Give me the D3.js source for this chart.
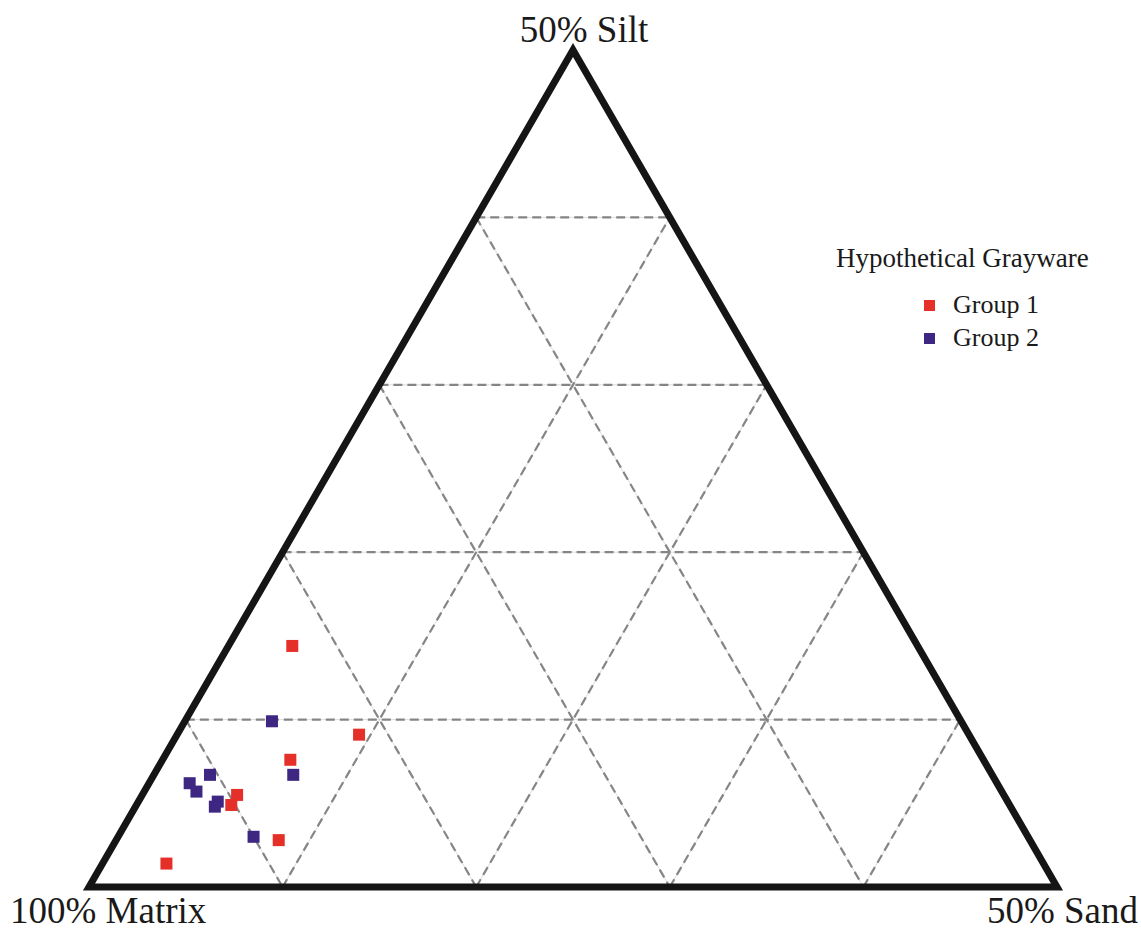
<!DOCTYPE html>
<html>
<head>
<meta charset="utf-8">
<script src="https://cdn.jsdelivr.net/npm/d3@7"></script>
<style>
  html, body { margin: 0; padding: 0; background: #fff; }
  svg { display: block; }
  text { font-family: "Liberation Serif", "Times New Roman", serif; fill: #1a1a1a; }
</style>
</head>
<body>
<svg id="chart" width="1141" height="928"></svg>
<script>
// Vertex labels (left, top, right)
const vertexLabels = ["100% Matrix", "50% Silt", "50% Sand"];

// Compositions in percent: matrix, silt, sand
const group1Matrix = [82.3, 81.5, 85.8, 89.6, 90.2, 88.8, 95.3];
const group1Silt   = [14.4,  9.1,  7.6,  5.5,  4.9,  2.8,  1.4];
const group1Sand   = [ 3.3,  9.4,  6.6,  4.9,  4.9,  8.4,  3.3];

const group2Matrix = [85.6, 86.1, 90.4, 91.7, 91.6, 90.8, 91.1, 90.0];
const group2Silt   = [ 9.9,  6.7,  6.7,  6.2,  5.7,  5.1,  4.8,  3.0];
const group2Sand   = [ 4.5,  7.2,  2.9,  2.1,  2.7,  4.1,  4.1,  7.0];

const legendTitle = "Hypothetical Grayware";
const groupNames = ["Group 1", "Group 2"];
const groupColors = ["#e5302a", "#3d2783"];

// Grid steps, in percent of silt / sand (the plotted sub-triangle spans 0–50%)
const gridSteps = [10, 20, 30, 40];

const svg = d3.select("#chart");

// Horizontal position (0 = matrix edge, 1 = sand vertex) and height (0 = base, 1 = silt vertex)
const x = d3.scaleLinear().domain([0, 1]).range([89, 1057]);
const y = d3.scaleLinear().domain([0, 1]).range([887, 50]);
const frac = d3.scaleLinear().domain([0, 50]).range([0, 1]);

// Ternary projection: silt and sand fractions of the 50% sub-triangle
function project(silt, sand) {
  const b = frac(silt), c = frac(sand);
  return [x(c + b / 2), y(b)];
}

// Grid lines
const gridLines = [];
gridSteps.forEach(v => {
  // constant silt (horizontal)
  gridLines.push([project(v, 0), project(v, 50 - v)]);
  // constant sand (parallel to the matrix–silt edge)
  gridLines.push([project(0, v), project(50 - v, v)]);
  // constant matrix (parallel to the silt–sand edge)
  gridLines.push([project(v, 0), project(0, v)]);
});

const grid = svg.append("g");
grid.selectAll("line.base").data(gridLines).join("line")
  .attr("class", "base")
  .attr("x1", d => d[0][0]).attr("y1", d => d[0][1])
  .attr("x2", d => d[1][0]).attr("y2", d => d[1][1])
  .attr("stroke", "#d4d4d4").attr("stroke-width", 0.8);
grid.selectAll("line.dash").data(gridLines).join("line")
  .attr("class", "dash")
  .attr("x1", d => d[0][0]).attr("y1", d => d[0][1])
  .attr("x2", d => d[1][0]).attr("y2", d => d[1][1])
  .attr("stroke", "#858585").attr("stroke-width", 2.2)
  .attr("stroke-dasharray", "9,5");

// Triangle outline
const corners = [project(0, 0), project(50, 0), project(0, 50)];
svg.append("path")
  .attr("d", d3.line()(corners) + "Z")
  .attr("fill", "none")
  .attr("stroke", "#151515")
  .attr("stroke-width", 7)
  .attr("stroke-linejoin", "miter")
  .attr("stroke-miterlimit", 10);

// Samples
const size = 12;
function drawGroup(silt, sand, color) {
  const pts = silt.map((s, i) => project(s, sand[i]));
  svg.append("g").selectAll("rect").data(pts).join("rect")
    .attr("x", d => d[0] - size / 2)
    .attr("y", d => d[1] - size / 2)
    .attr("width", size).attr("height", size)
    .attr("fill", color);
}
drawGroup(group1Silt, group1Sand, groupColors[0]);
drawGroup(group2Silt, group2Sand, groupColors[1]);

// Vertex labels
svg.append("text").attr("x", 10).attr("y", 923)
  .attr("font-size", 37).text(vertexLabels[0]);
svg.append("text").attr("x", 584).attr("y", 42).attr("text-anchor", "middle")
  .attr("font-size", 37).text(vertexLabels[1]);
svg.append("text").attr("x", 1138).attr("y", 923).attr("text-anchor", "end")
  .attr("font-size", 37).text(vertexLabels[2]);

// Legend
const legend = svg.append("g");
legend.append("text").attr("x", 836).attr("y", 267)
  .attr("font-size", 27).text(legendTitle);
const items = legend.selectAll("g.item").data(groupNames).join("g")
  .attr("class", "item")
  .attr("transform", (d, i) => `translate(0, ${i * 33})`);
items.append("rect")
  .attr("x", 924).attr("y", 300)
  .attr("width", 11).attr("height", 11)
  .attr("fill", (d, i) => groupColors[i]);
items.append("text")
  .attr("x", 953).attr("y", 313)
  .attr("font-size", 26)
  .text(d => d);
</script>
</body>
</html>
